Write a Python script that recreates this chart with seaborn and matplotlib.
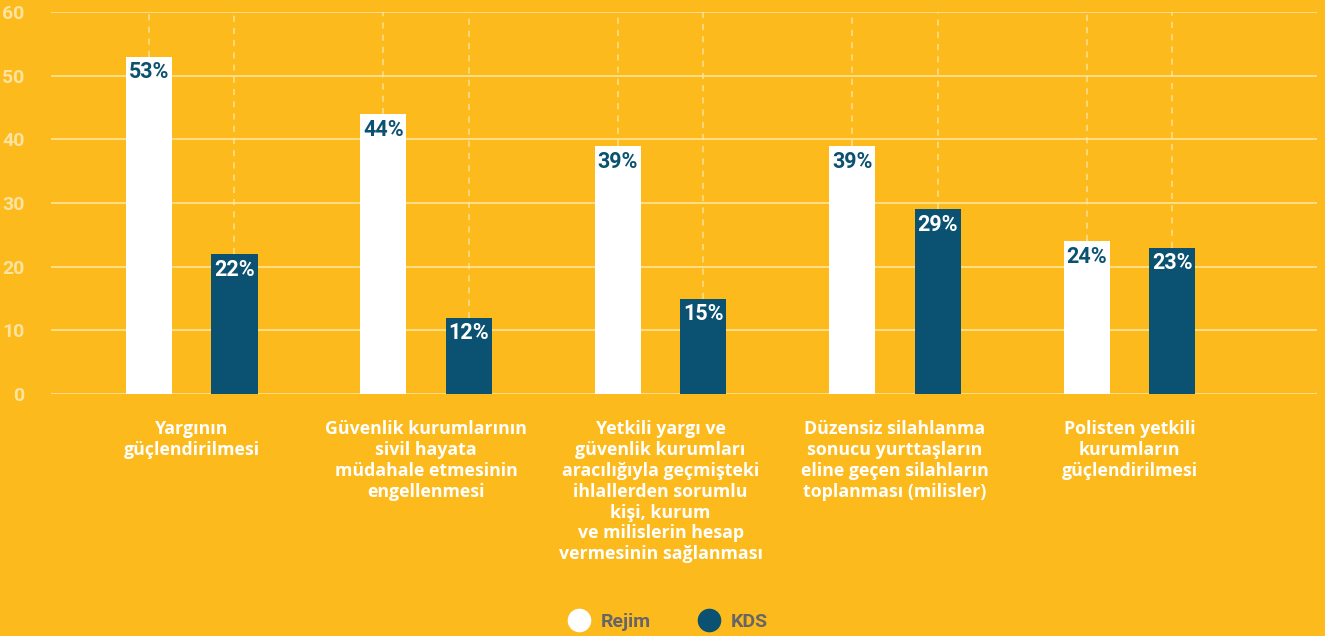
import numpy as np
import pandas as pd
import seaborn as sns
import matplotlib.pyplot as plt
from matplotlib.lines import Line2D

# values (percent)
categories = ["Yargının\ngüçlendirilmesi",
              "Güvenlik kurumlarının\nsivil hayata\nmüdahale etmesinin\nengellenmesi",
              "Yetkili yargı ve\ngüvenlik kurumları\naracılığıyla geçmişteki\nihlallerden sorumlu\nkişi, kurum\nve milislerin hesap\nvermesinin sağlanması",
              "Düzensiz silahlanma\nsonucu yurttaşların\neline geçen silahların\ntoplanması (milisler)",
              "Polisten yetkili\nkurumların\ngüçlendirilmesi"]
rejim = [53, 44, 39, 39, 24]
kds = [22, 12, 15, 29, 23]
series = ["Rejim", "KDS"]

BG = "#FCBA1C"
WHITE = "#FFFFFF"
NAVY = "#0B5272"
PALE = "#FDE3A0"

df = pd.DataFrame({"cat": categories * 2,
                   "value": rejim + kds,
                   "group": [series[0]] * 5 + [series[1]] * 5})

sns.set_style("white")
plt.rcParams['font.family'] = ['Roboto', 'DejaVu Sans']
plt.rcParams['font.stretch'] = 'condensed'

fig = plt.figure(figsize=(13.25, 6.36), dpi=100, facecolor=BG)
ax = fig.add_axes([0.0385, 0.3805, 0.9555, 0.6006])
ax.set_facecolor(BG)

sns.barplot(data=df, x="cat", y="value", hue="group", order=categories,
            hue_order=series, palette=[WHITE, NAVY], width=0.73, gap=0.46,
            saturation=1, legend=False, ax=ax, zorder=3, edgecolor="none")

ax.set_ylim(0, 60)
ax.set_xlim(-0.6, 4.8)
ax.set_yticks(range(0, 61, 10))
for y in range(0, 61, 10):
    ax.axhline(y, color="#FFE7A6", lw=1.3, alpha=0.85, zorder=1)

# value labels and dashed guides at bar centres
for bars, col in zip(ax.containers, [NAVY, WHITE]):
    for p in bars:
        cx = p.get_x() + p.get_width() / 2
        h = p.get_height()
        ax.plot([cx, cx], [h, 60], ls=(0, (4, 4)), color="#FFE7A6", lw=1.1,
                alpha=0.85, zorder=2)
        ax.annotate(f"{h:.0f}%", (cx, h), xytext=(0, -3.5), textcoords="offset points",
                    ha="center", va="top", color=col, fontsize=15.5, fontweight="bold",
                    zorder=4)

for s in ax.spines.values():
    s.set_visible(False)
ax.tick_params(axis="y", length=0, pad=19, labelcolor=PALE, labelsize=14)
for t in ax.get_yticklabels():
    t.set_fontweight("bold")
ax.tick_params(axis="x", length=0, pad=19)
ax.set_xticks(range(len(categories)))
ax.set_xticklabels(categories, fontsize=12.8, fontweight="bold", color=WHITE,
                   family=["Open Sans", "DejaVu Sans"], linespacing=1.2, va="top")
ax.set_xlabel("")
ax.set_ylabel("")

handles = [Line2D([], [], marker="o", ls="", markersize=17, markerfacecolor=c,
                  markeredgecolor="none") for c in [WHITE, NAVY]]
leg = fig.legend(handles, series, loc="center", bbox_to_anchor=(0.501, 0.022),
                 ncol=2, frameon=False, columnspacing=2.0, handletextpad=0.1,
                 prop={"weight": "bold", "size": 14})
for t in leg.get_texts():
    t.set_color("#666666")

fig.savefig("out.png", dpi=100, facecolor=BG)
